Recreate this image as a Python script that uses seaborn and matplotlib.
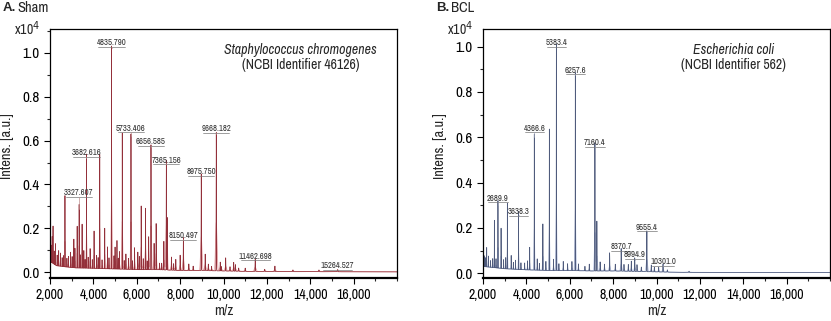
import numpy as np
import pandas as pd
import matplotlib
matplotlib.use("Agg")
import matplotlib.pyplot as plt
from matplotlib import font_manager
from matplotlib.ticker import MultipleLocator, StrMethodFormatter
import seaborn as sns

# ---------------- data ----------------
# Panel A: Sham, Staphylococcus chromogenes
a_peak_mz = [2140, 2250, 2400, 2690, 2950, 3100, 3253, 3345, 3480, 3560, 3682.6, 3850,
             4032, 4150, 4293, 4523, 4650, 4835.8, 5000, 5088, 5200, 5333, 5500, 5733.4,
             5899, 6050, 6205, 6404, 6550, 6656.6, 6800, 6894, 7250, 7365.2, 7400, 7600,
             7800, 8000, 8150.5, 8400, 8975.8, 9156, 9668.2, 9850, 10100, 10470, 10550,
             11462.7, 12370, 13200, 14400, 15264.5]
a_peak_int = [0.17, 0.10, 0.07, 0.33, 0.07, 0.13, 0.19, 0.29, 0.20, 0.08, 0.52, 0.09,
              0.17, 0.06, 0.52, 0.185, 0.10, 1.02, 0.10, 0.13, 0.08, 0.62, 0.07, 0.62,
              0.10, 0.08, 0.29, 0.28, 0.15, 0.57, 0.12, 0.21, 0.13, 0.50, 0.24, 0.06,
              0.05, 0.07, 0.15, 0.03, 0.44, 0.075, 0.63, 0.04, 0.06, 0.04, 0.03,
              0.055, 0.025, 0.008, 0.008, 0.01]
a_minor_mz = [2050, 2100, 2200, 2330, 2480, 2560, 2620, 2780, 2850, 3020, 3150, 3400,
              3620, 3760, 3950, 4220, 4400, 4720, 4950, 5150, 5420, 5620, 5800, 6120,
              6300, 6480, 7050, 7150, 7700, 8600, 9300, 9450, 9900, 10300, 10700, 11000, 11900]
a_minor_int = [0.08, 0.12, 0.06, 0.05, 0.06, 0.04, 0.05, 0.04, 0.05, 0.05, 0.09, 0.06,
               0.04, 0.05, 0.04, 0.05, 0.04, 0.05, 0.06, 0.05, 0.04, 0.05, 0.04, 0.06,
               0.05, 0.04, 0.03, 0.03, 0.03, 0.02, 0.03, 0.02, 0.02, 0.02, 0.015, 0.015, 0.01]
a_base_mz = [2000, 2300, 2700, 3200, 4000, 5000, 6000, 7000, 8000, 9000, 10000, 11000, 13000, 18000]
a_base_int = [0.05, 0.03, 0.025, 0.02, 0.018, 0.015, 0.012, 0.012, 0.008, 0.008, 0.006, 0.004, 0.003, 0.002]
a_label_mz = [3327.607, 3682.616, 4835.790, 5733.406, 6656.585, 7365.156, 8150.497,
              8975.750, 9668.182, 11462.698, 15264.527]
a_label_y = [0.362, 0.545, 1.045, 0.656, 0.595, 0.511, 0.167, 0.458, 0.653, 0.074, 0.030]
a_label_peak = [0.29, 0.52, 1.02, 0.62, 0.57, 0.50, 0.15, 0.44, 0.63, 0.055, 0.01]

# Panel B: BCL, Escherichia coli
b_peak_mz = [2170, 2525, 2689.9, 2834, 3124, 3300, 3638.3, 3921, 4152, 4366.6, 4760,
             5060, 5383.4, 5900, 6257.6, 6700, 7160.4, 7250, 7838, 8370.7, 8838, 8994.9,
             9555.4, 9760, 10301.0, 10500, 11500]
b_peak_int = [0.088, 0.21, 0.30, 0.18, 0.29, 0.06, 0.257, 0.03, 0.10, 0.60, 0.205,
              0.625, 1.0, 0.03, 0.875, 0.02, 0.566, 0.22, 0.08, 0.10, 0.045, 0.06,
              0.18, 0.03, 0.035, 0.01, 0.005]
b_minor_mz = [2050, 2100, 2250, 2350, 2450, 2600, 2950, 3050, 3400, 3500, 3750, 4050,
              4500, 4600, 4900, 5250, 5500, 5700, 6100, 6400, 6900, 7400, 7600, 8100,
              8500, 8700, 9100, 9300, 9900, 10100]
b_minor_int = [0.05, 0.04, 0.05, 0.03, 0.04, 0.04, 0.04, 0.05, 0.03, 0.04, 0.03, 0.04,
               0.05, 0.03, 0.04, 0.05, 0.03, 0.04, 0.04, 0.03, 0.03, 0.04, 0.03, 0.03,
               0.03, 0.03, 0.03, 0.02, 0.02, 0.02]
b_base_mz = [2000, 2500, 3000, 4000, 5000, 6000, 7000, 8000, 9000, 10000, 11000, 18000]
b_base_int = [0.03, 0.025, 0.02, 0.015, 0.012, 0.012, 0.01, 0.01, 0.008, 0.006, 0.004, 0.003]
b_label_mz = [2689.9, 3638.3, 4366.6, 5383.4, 6257.6, 7160.4, 8370.7, 8994.9, 9555.4, 10301.0]
b_label_y = [0.331, 0.272, 0.640, 1.018, 0.897, 0.576, 0.117, 0.081, 0.203, 0.051]
b_label_peak = [0.30, 0.257, 0.60, 1.0, 0.875, 0.566, 0.10, 0.06, 0.18, 0.035]

x_ticks = [2000, 4000, 6000, 8000, 10000, 12000, 14000, 16000]
y_ticks = [0.0, 0.2, 0.4, 0.6, 0.8, 1.0]

# ---------------- style ----------------
sns.set_style("ticks")
fonts = font_manager.fontManager.ttflist
narrow = [f.name for f in fonts if "Narrow" in f.name or "Condensed" in f.name]
cond_dejavu = [f for f in fonts if f.name == "DejaVu Sans" and f.stretch == "condensed"]
if narrow:
    plt.rcParams["font.family"] = [narrow[0], "DejaVu Sans"]
    tick_fs = 10
elif cond_dejavu:
    plt.rcParams["font.family"] = ["DejaVu Sans"]
    plt.rcParams["font.stretch"] = "condensed"
    tick_fs = 9.5
else:
    plt.rcParams["font.family"] = ["Liberation Sans", "DejaVu Sans"]
    tick_fs = 8.6
plt.rcParams["xtick.direction"] = "out"
plt.rcParams["ytick.direction"] = "out"

grid = np.linspace(2000, 18000, 20000)


def build(peak_mz, peak_int, base_mz, base_int, rel_w, frac):
    y = np.interp(grid, base_mz, base_int).copy()
    for m, h in zip(peak_mz, peak_int):
        w = m * rel_w
        y = y + frac * h * np.exp(-0.5 * ((grid - m) / w) ** 2)
    return y


fig = plt.figure(figsize=(8.31, 3.21), dpi=100)
axA = fig.add_axes([50 / 831, 1 - 278 / 321, 347 / 831, 249 / 321])
axB = fig.add_axes([483 / 831, 1 - 278 / 321, 347 / 831, 249 / 321])

panels = [
    (axA, a_peak_mz + a_minor_mz, a_peak_int + a_minor_int, a_base_mz, a_base_int,
     a_label_mz, a_label_y, a_label_peak,
     "#e9a4a6", "#93303a", "#bf9090", (-0.026, 1.108), 0.35,
     "A", "Sham", "Staphylococcus chromogenes", "(NCBI Identifier 46126)", "{:.3f}"),
    (axB, b_peak_mz + b_minor_mz, b_peak_int + b_minor_int, b_base_mz, b_base_int,
     b_label_mz, b_label_y, b_label_peak,
     "#b7c3e4", "#4f5b7c", "#9aa0b4", (-0.021, 1.078), 0.30,
     "B", "BCL", "Escherichia coli", "(NCBI Identifier 562)", "{:.1f}"),
]

for (ax, pmz, pint, bmz, bint, lmz, ly, lpk, c_light, c_dark, c_lead, ylim, lfrac,
     letter, title, species, ident, fmt) in panels:
    light = build(pmz, pint, bmz, bint, 0.0035, lfrac)
    dark = build(pmz, pint, bmz, bint, 0.0007, 1.0)
    df = pd.DataFrame({"mz": np.concatenate([grid, grid]),
                       "int": np.concatenate([light, dark]),
                       "trace": ["light"] * len(grid) + ["dark"] * len(grid)})
    sns.lineplot(data=df, x="mz", y="int", hue="trace",
                 palette={"light": c_light, "dark": c_dark},
                 estimator=None, sort=False, linewidth=0.55, legend=False, ax=ax)

    for m, yl, yp in zip(lmz, ly, lpk):
        txt = fmt.format(m)
        ax.text(m, yl, txt, ha="center", va="center", fontsize=6.3, color="#333333")
        half = len(txt) * 75  # half width of underline in m/z units
        ax.plot([m - half, m + half], [yl - 0.018, yl - 0.018], color="#777777", lw=0.5)
        ax.plot([m, m], [yl - 0.018, yp], color=c_lead, lw=0.5)

    ax.set_xlim(2000, 18000)
    ax.set_ylim(*ylim)
    ax.set_xticks(x_ticks)
    ax.xaxis.set_major_formatter(StrMethodFormatter("{x:,.0f}"))
    ax.xaxis.set_minor_locator(MultipleLocator(1000))
    ax.set_yticks(y_ticks)
    ax.yaxis.set_major_formatter(StrMethodFormatter("{x:.1f}"))
    ax.yaxis.set_minor_locator(MultipleLocator(0.1))
    ax.tick_params(axis="x", which="major", length=4, width=0.8, labelsize=tick_fs, colors="black")
    ax.tick_params(axis="y", which="major", length=4, width=0.8, labelsize=tick_fs + 0.8, colors="black")
    ax.tick_params(axis="both", which="minor", length=2.5, width=0.8)
    for s in ax.spines.values():
        s.set_visible(True)
        s.set_linewidth(0.9)
        s.set_color("black")
    ax.spines["bottom"].set_linewidth(1.6)
    ax.set_xlabel("m/z", fontsize=tick_fs + 0.5, labelpad=1)
    ax.set_ylabel("Intens. [a.u.]", fontsize=tick_fs + 0.5)
    ax.yaxis.set_label_coords(-0.105, 0.53)
    ax.text(0.722, 0.916, species, transform=ax.transAxes, ha="center", va="center",
            fontsize=tick_fs, style="italic")
    ax.text(0.722, 0.855, ident, transform=ax.transAxes, ha="center", va="center",
            fontsize=tick_fs)
    ax.text(-0.03, 1.0, "x10$^4$", transform=ax.transAxes, ha="right", va="center",
            fontsize=tick_fs)
    ax.text(-0.135, 1.084, letter + ".", transform=ax.transAxes, ha="left", va="center",
            fontsize=tick_fs - 0.5, fontweight="bold", family=["Liberation Sans", "DejaVu Sans"])
    ax.text(-0.135 + 0.042, 1.084, title, transform=ax.transAxes, ha="left", va="center",
            fontsize=tick_fs + 0.5)

fig.savefig("out.png", dpi=100)
